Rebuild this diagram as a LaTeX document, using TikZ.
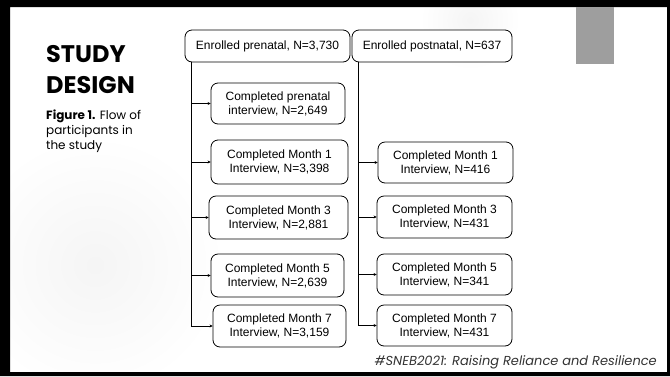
\documentclass[tikz,border=0pt]{standalone}
\usepackage{fontspec}
\setmainfont{Liberation Sans}
\newfontfamily\titlefont{Poppins}
\usetikzlibrary{arrows.meta}
\tikzset{
  x=1pt, y=-1pt,
  flowbox/.style={draw=black, line width=0.8pt, rounded corners=7pt, fill=white,
    align=center, inner sep=0pt, font=\fontsize{12}{14}\selectfont},
  link/.style={line width=0.8pt, draw=black},
  arr/.style={link, -{Stealth[length=3pt,width=3pt]}}
}
\begin{document}
\begin{tikzpicture}
\useasboundingbox (0,0) rectangle (670,376);
\fill[white] (0,0) rectangle (670,376);
\begin{scope}
\clip (10,7) rectangle (667,372);
\shade[inner color=black!4, outer color=white] (95,265) circle (130);
\shade[inner color=black!4, outer color=white] (470,20) circle (50);
\end{scope}
% frame
\fill[black, even odd rule] (0,0) rectangle (670,376) (10,7) rectangle (667,372);
\fill[black!38] (576,7) rectangle (614,64);
% title
\node[anchor=base west, inner sep=0pt, font=\titlefont\bfseries\fontsize{24}{24}\selectfont] (t1) at (46,62) {STUDY};
\node[anchor=base west, inner sep=0pt, font=\titlefont\bfseries\fontsize{24}{24}\selectfont] (t2) at (46,93) {DESIGN};
\node[anchor=north west, inner sep=0pt, align=left, font=\titlefont\fontsize{12}{15}\selectfont] (cap) at (46,110)
  {{\bfseries Figure 1.} Flow of\\participants in\\the study};
% boxes
\node[flowbox, minimum width=165, minimum height=32] (L0) at (267.5,46) {Enrolled prenatal, N=3,730};
\node[flowbox, minimum width=160, minimum height=32] (R0) at (432,46) {Enrolled postnatal, N=637};
\node[flowbox, minimum width=134, minimum height=41] (L1) at (278,103.5) {Completed prenatal\\interview, N=2,649};
\node[flowbox, minimum width=137, minimum height=44] (L2) at (279.5,162) {Completed Month 1\\Interview, N=3,398};
\node[flowbox, minimum width=139, minimum height=43] (L3) at (278.5,217.5) {Completed Month 3\\Interview, N=2,881};
\node[flowbox, minimum width=133, minimum height=43] (L4) at (277.5,275.5) {Completed Month 5\\Interview, N=2,639};
\node[flowbox, minimum width=133, minimum height=42] (L5) at (279.5,326) {Completed Month 7\\Interview, N=3,159};
\node[flowbox, minimum width=135, minimum height=41] (R1) at (445.5,162.5) {Completed Month 1\\Interview, N=416};
\node[flowbox, minimum width=135, minimum height=42] (R2) at (444.5,217) {Completed Month 3\\Interview, N=431};
\node[flowbox, minimum width=135, minimum height=41] (R3) at (444.5,274.5) {Completed Month 5\\Interview, N=341};
\node[flowbox, minimum width=135, minimum height=41] (R4) at (444.5,325.5) {Completed Month 7\\Interview, N=431};
% trunks
\coordinate (lt) at (191,62);
\coordinate (rt) at (358,62);
\draw[link] (lt) -- (lt |- L5.west);
\draw[link] (rt) -- (rt |- R4.west);
\foreach \b in {L1,L2,L3,L4,L5}{\draw[arr] (lt |- \b.west) -- (\b.west);}
\foreach \b in {R1,R2,R3,R4}{\draw[arr] (rt |- \b.west) -- (\b.west);}
% footer
\node[anchor=base east, inner sep=0pt, font=\titlefont\itshape\fontsize{13}{13}\selectfont, text=black!80] (foot) at (657,365)
  {\#SNEB2021: Raising Reliance and Resilience};
\end{tikzpicture}
\end{document}
